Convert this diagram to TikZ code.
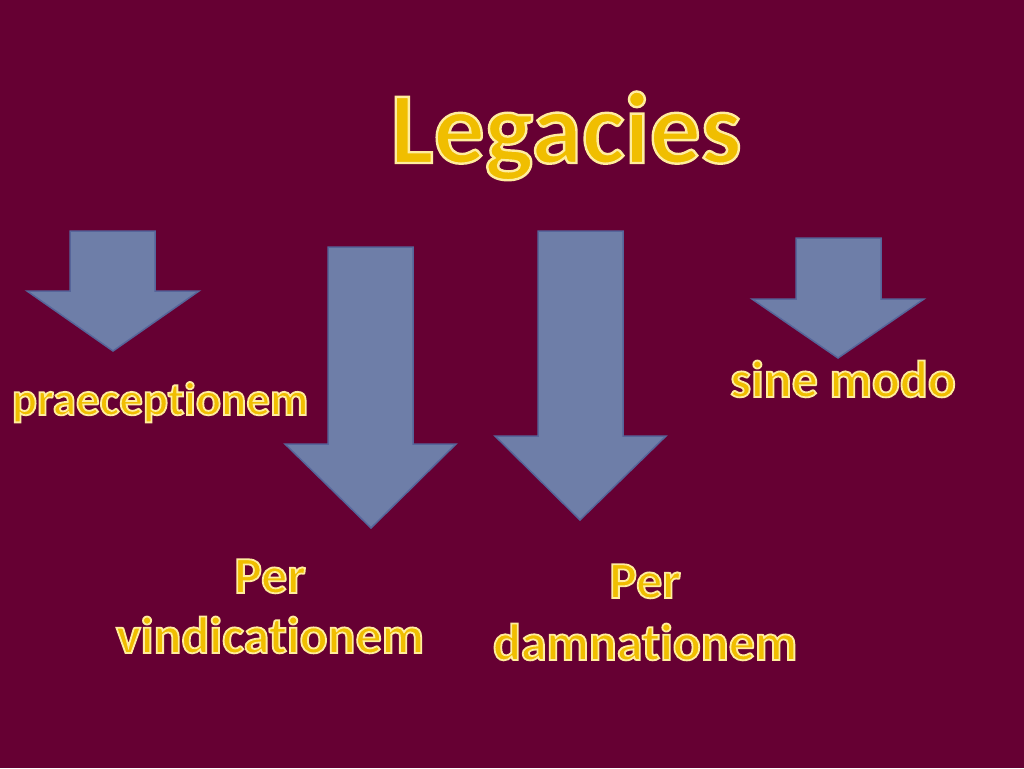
\documentclass[tikz,border=0pt]{standalone}
\usepackage{fontspec}
\setmainfont{Carlito}[Ligatures=NoCommon]
\definecolor{bg}{HTML}{660033}
\definecolor{arrfill}{HTML}{6E7EA8}
\definecolor{arredge}{HTML}{56659A}
\definecolor{gold}{HTML}{F0BE00}
\newcommand{\outl}[2]{\special{pdf:literal direct 2 Tr #1 w 1 0.93 0.62 RG}#2\special{pdf:literal direct 0 Tr}}
\tikzset{
  blockarrow/.style={fill=arrfill, draw=arredge, line width=1.5pt, line join=miter},
  lbl/.style={anchor=base, font=\bfseries, text=gold, inner sep=0pt},
}
\begin{document}
\begin{tikzpicture}[x=1pt,y=1pt]
\fill[bg] (0,0) rectangle (1024,-768);
\useasboundingbox (0,0) rectangle (1024,-768);
% arrows
\draw[blockarrow] (70,-231) -- (155,-231) -- (155,-291) -- (199,-291) -- (113,-351) -- (27,-291) -- (70,-291) -- cycle;
\draw[blockarrow] (328,-247) -- (413,-247) -- (413,-444) -- (456,-444) -- (371,-528) -- (285,-444) -- (328,-444) -- cycle;
\draw[blockarrow] (538,-231) -- (623,-231) -- (623,-436) -- (666,-436) -- (580,-520) -- (495,-436) -- (538,-436) -- cycle;
\draw[blockarrow] (796,-238) -- (881,-238) -- (881,-299) -- (924,-299) -- (838,-358) -- (752,-299) -- (796,-299) -- cycle;
% texts
\node[lbl] (title) at (566,-163) {\fontsize{102}{112}\selectfont\outl{2.4}{Legacies}};
\node[lbl] (prae) at (160,-415) {\fontsize{47}{52}\selectfont\outl{1.8}{praeceptionem}};
\node[lbl] (sine) at (843,-397) {\fontsize{52}{58}\selectfont\outl{1.8}{sine modo}};
\node[lbl] (per1) at (270,-593) {\fontsize{52}{58}\selectfont\outl{1.8}{Per}};
\node[lbl] (vind) at (270,-653) {\fontsize{52}{58}\selectfont\outl{1.8}{vindicationem}};
\node[lbl] (per2) at (645,-598) {\fontsize{52}{58}\selectfont\outl{1.8}{Per}};
\node[lbl] (damn) at (645,-660) {\fontsize{52}{58}\selectfont\outl{1.8}{damnationem}};
\end{tikzpicture}
\end{document}
